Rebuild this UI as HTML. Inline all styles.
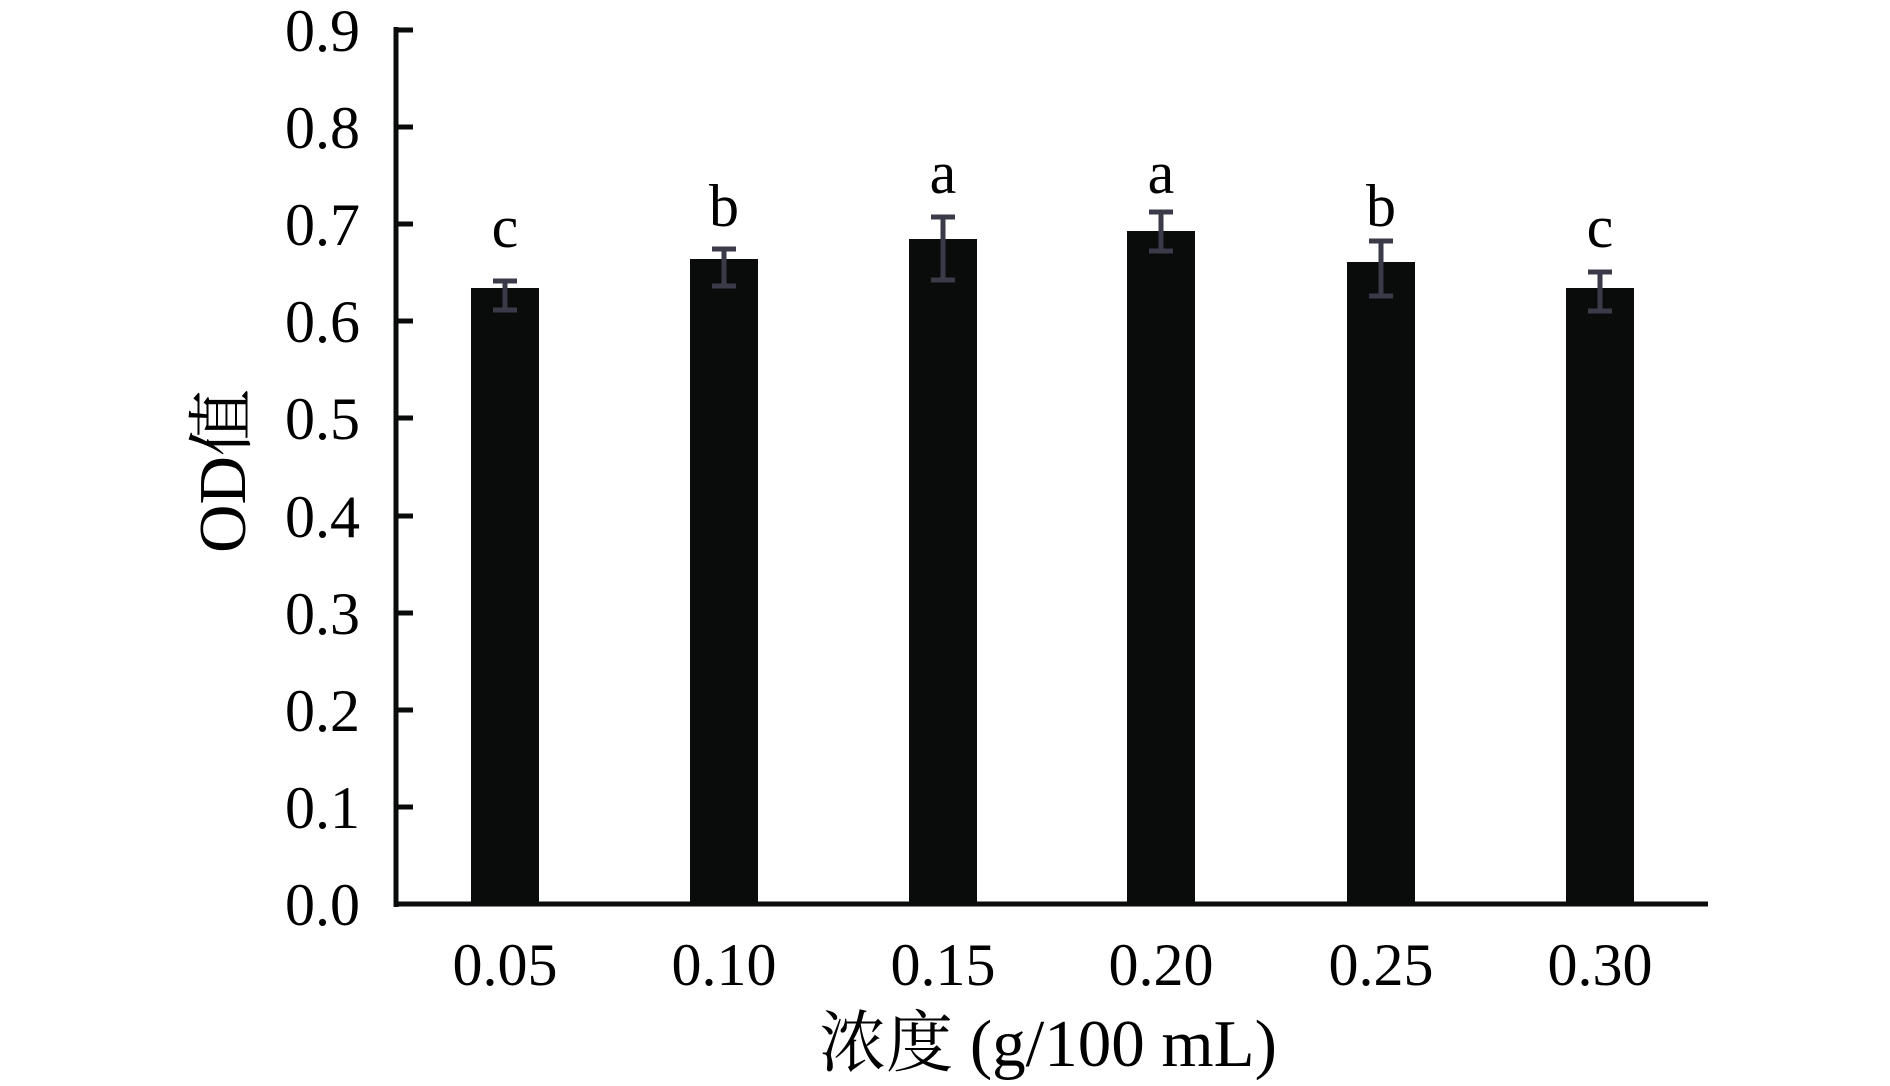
<!DOCTYPE html>
<html><head><meta charset="utf-8"><style>
html,body{margin:0;padding:0;background:#fff;}
svg{display:block;}
text{font-family:"Liberation Serif","Noto Serif CJK SC",serif;fill:#000;}
</style></head><body>
<svg width="1890" height="1086" viewBox="0 0 1890 1086" xmlns="http://www.w3.org/2000/svg">
<g font-size="60" text-anchor="end">
<text x="360" y="925">0.0</text>
<text x="360" y="828">0.1</text>
<text x="360" y="731">0.2</text>
<text x="360" y="634">0.3</text>
<text x="360" y="537">0.4</text>
<text x="360" y="439">0.5</text>
<text x="360" y="342">0.6</text>
<text x="360" y="245">0.7</text>
<text x="360" y="148">0.8</text>
<text x="360" y="51">0.9</text>
</g>
<g stroke="#0a0c0b" stroke-width="5">
<line x1="396" y1="27" x2="396" y2="907"/>
<line x1="394" y1="904" x2="1708" y2="904"/>
<line x1="396" y1="30" x2="413" y2="30"/>
<line x1="396" y1="127" x2="413" y2="127"/>
<line x1="396" y1="224" x2="413" y2="224"/>
<line x1="396" y1="321" x2="413" y2="321"/>
<line x1="396" y1="418" x2="413" y2="418"/>
<line x1="396" y1="516" x2="413" y2="516"/>
<line x1="396" y1="613" x2="413" y2="613"/>
<line x1="396" y1="710" x2="413" y2="710"/>
<line x1="396" y1="807" x2="413" y2="807"/>
</g>
<g fill="#0a0c0b">
<rect x="471" y="288" width="68" height="616"/>
<rect x="690" y="259" width="68" height="645"/>
<rect x="909" y="239" width="68" height="665"/>
<rect x="1127" y="231" width="68" height="673"/>
<rect x="1347" y="262" width="68" height="642"/>
<rect x="1566" y="288" width="68" height="616"/>
</g>
<g stroke="#3a3a48" stroke-width="5" fill="none">
<path d="M505 281V310M493 281H517M493 310H517"/>
<path d="M724 249V286M712 249H736M712 286H736"/>
<path d="M943 217V280M931 217H955M931 280H955"/>
<path d="M1161 212V251M1149 212H1173M1149 251H1173"/>
<path d="M1381 241V296M1369 241H1393M1369 296H1393"/>
<path d="M1600 272V311M1588 272H1612M1588 311H1612"/>
</g>
<g font-size="60" text-anchor="middle">
<text x="505" y="247">c</text>
<text x="724" y="226">b</text>
<text x="943" y="193">a</text>
<text x="1161" y="193">a</text>
<text x="1381" y="226">b</text>
<text x="1600" y="247">c</text>
</g>
<g font-size="60" text-anchor="middle">
<text x="505" y="985">0.05</text>
<text x="724" y="985">0.10</text>
<text x="943" y="985">0.15</text>
<text x="1161" y="985">0.20</text>
<text x="1381" y="985">0.25</text>
<text x="1600" y="985">0.30</text>
</g>
<text x="1048" y="1066" font-size="67" text-anchor="middle">浓度 (g/100 mL)</text>
<text x="0" y="0" font-size="67" text-anchor="middle" transform="translate(245,471) rotate(-90)">OD值</text>
</svg>
</body></html>
